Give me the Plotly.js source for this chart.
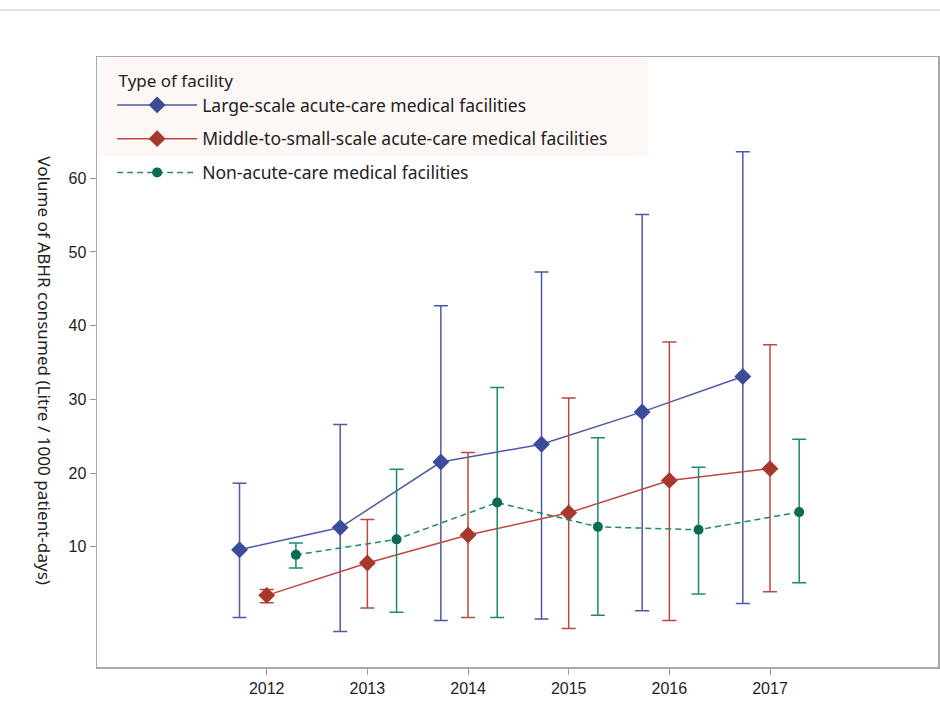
<!DOCTYPE html>
<html>
<head>
<meta charset="utf-8">
<script src="https://cdn.plot.ly/plotly-3.0.1.min.js"></script>
<style>html,body{margin:0;padding:0;background:#fff;}#chart{width:940px;height:711px;}</style>
</head>
<body>
<div id="chart"></div>
<script>
var years = [2012, 2013, 2014, 2015, 2016, 2017];
var tickLabels = ["2012", "2013", "2014", "2015", "2016", "2017"];

var largeName = "Large-scale acute-care medical facilities";
var largeMean = [9.6, 12.6, 21.5, 23.9, 28.3, 33.1];
var largeUpper = [18.6, 26.6, 42.7, 47.3, 55.1, 63.6];
var largeLower = [0.4, -1.5, 0.0, 0.2, 1.3, 2.3];

var midName = "Middle-to-small-scale acute-care medical facilities";
var midMean = [3.4, 7.8, 11.6, 14.6, 19.0, 20.6];
var midUpper = [4.2, 13.7, 22.8, 30.2, 37.8, 37.4];
var midLower = [2.4, 1.7, 0.4, -1.1, 0.0, 3.9];

var nonName = "Non-acute-care medical facilities";
var nonMean = [8.9, 11.0, 16.0, 12.7, 12.3, 14.7];
var nonUpper = [10.5, 20.5, 31.6, 24.8, 20.8, 24.6];
var nonLower = [7.1, 1.1, 0.4, 0.7, 3.6, 5.1];

var yTitle = "Volume of ABHR consumed (Litre / 1000 patient-days)";
var legendTitle = "Type of facility";

function shift(arr, d) { return arr.map(function (v) { return v + d; }); }
function diff(a, b) { return a.map(function (v, i) { return v - b[i]; }); }

var blue = "#4b5aa8", blueDark = "#3a4c9a";
var red = "#c0463f", redDark = "#a8372c";
var green = "#1d8a6c", greenDark = "#0b6b55";

var traces = [
  {
    x: shift(years, -0.27), y: largeMean, name: largeName, legendgroup: "a",
    type: "scatter", mode: "lines+markers",
    line: { color: blue, width: 1.5 },
    marker: { symbol: "diamond", size: 13, color: blueDark },
    error_y: { type: "data", symmetric: false, array: diff(largeUpper, largeMean), arrayminus: diff(largeMean, largeLower), color: blue, thickness: 1.5, width: 7 }
  },
  {
    x: shift(years, 0), y: midMean, name: midName, legendgroup: "b",
    type: "scatter", mode: "lines+markers",
    line: { color: red, width: 1.5 },
    marker: { symbol: "diamond", size: 13, color: redDark },
    error_y: { type: "data", symmetric: false, array: diff(midUpper, midMean), arrayminus: diff(midMean, midLower), color: red, thickness: 1.5, width: 7 }
  },
  {
    x: shift(years, 0.29), y: nonMean, name: nonName, legendgroup: "c",
    type: "scatter", mode: "lines+markers",
    line: { color: green, width: 1.5, dash: "6px,4px" },
    marker: { symbol: "circle", size: 10, color: greenDark },
    error_y: { type: "data", symmetric: false, array: diff(nonUpper, nonMean), arrayminus: diff(nonMean, nonLower), color: green, thickness: 1.5, width: 7 }
  }
];

var tickFont = { family: "Liberation Sans Narrow, Arial Narrow, Liberation Sans, sans-serif", size: 16, color: "#1e1e1e" };
var textFont = "Noto Sans, Open Sans, sans-serif";

var layout = {
  width: 940, height: 711,
  margin: { l: 97, r: 2, t: 57, b: 44 },
  paper_bgcolor: "#ffffff", plot_bgcolor: "#ffffff",
  showlegend: true,
  xaxis: {
    range: [2010.314, 2018.669],
    tickmode: "array", tickvals: years, ticktext: tickLabels,
    showgrid: false, zeroline: false,
    showline: true, linecolor: "#a8a8a8", linewidth: 1.5, mirror: true,
    ticks: "outside", ticklen: 6, tickcolor: "#999", tickwidth: 1,
    tickfont: tickFont
  },
  yaxis: {
    range: [-6.32, 76.46],
    tickmode: "array", tickvals: [10, 20, 30, 40, 50, 60],
    showgrid: false, zeroline: false,
    showline: true, linecolor: "#a8a8a8", linewidth: 1.5, mirror: true,
    ticks: "outside", ticklen: 6, tickcolor: "#999", tickwidth: 1,
    tickfont: tickFont
  },
  legend: {
    x: 0.018, y: 0.987, xanchor: "left", yanchor: "top",
    bgcolor: "rgba(0,0,0,0)", borderwidth: 0,
    font: { family: textFont, size: 17.5, color: "#222" },
    title: { text: " " + legendTitle, font: { family: textFont, size: 17, color: "#222" } },
    itemwidth: 80, tracegroupgap: 8
  },
  annotations: [
    { text: yTitle, xref: "paper", yref: "paper", x: -0.062, y: 0.485, xanchor: "center", yanchor: "middle",
      textangle: 90, showarrow: false, font: { family: textFont, size: 17.1, color: "#222" } }
  ],
  shapes: [
    { type: "rect", xref: "paper", yref: "paper", x0: 0.002, x1: 0.655, y0: 0.838, y1: 0.998, fillcolor: "#fdf7f5", line: { width: 0 }, layer: "below" },
    { type: "line", xref: "paper", yref: "paper", x0: -0.12, x1: 1.01, y0: 1.077, y1: 1.077, line: { color: "#d8d8d8", width: 1.5 } }
  ]
};

Plotly.newPlot("chart", traces, layout, { displayModeBar: false, staticPlot: true });
</script>
</body>
</html>
